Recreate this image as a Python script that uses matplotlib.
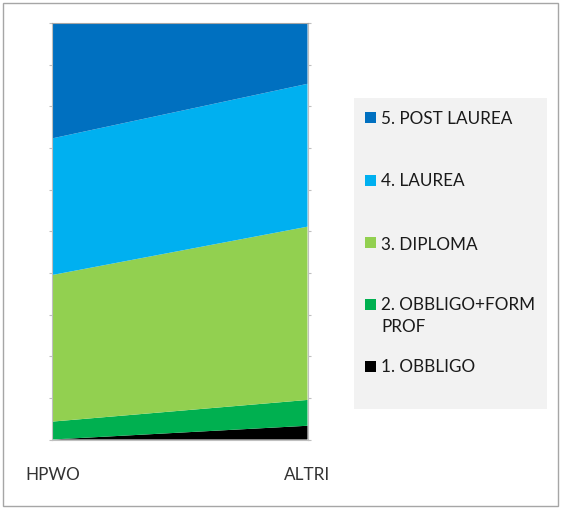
import matplotlib
matplotlib.use("Agg")
import matplotlib.pyplot as plt
from matplotlib.patches import Rectangle
import numpy as np

plt.rcParams['font.family'] = ['Lato', 'DejaVu Sans']

categories = ["HPWO", "ALTRI"]
series_names = ["1. OBBLIGO", "2. OBBLIGO+FORM\nPROF", "3. DIPLOMA", "4. LAUREA", "5. POST LAUREA"]
obbligo = [0.0, 3.3]
obbligo_form = [4.3, 6.2]
diploma = [35.2, 41.6]
laurea = [32.8, 34.3]
post_laurea = [27.7, 14.6]
colors = ["#000000", "#00B050", "#92D050", "#00B0F0", "#0070C0"]

values = [obbligo, obbligo_form, diploma, laurea, post_laurea]

fig = plt.figure(figsize=(5.62, 5.09), dpi=100)
W, H = 562, 509

# outer chart border
fig.patches.append(Rectangle((3 / W, 3 / H), (558 - 3) / W, (506 - 3) / H,
                             transform=fig.transFigure, fill=False,
                             edgecolor="#a6a6a6", linewidth=1.0))

ax = fig.add_axes([52.3 / W, 1 - 439.5 / H, (307.5 - 52.3) / W, (439.5 - 23) / H])
x = np.arange(len(categories))
ax.stackplot(x, *values, colors=colors, linewidth=0)
ax.set_xlim(0, len(categories) - 1)
ax.set_ylim(0, 100)

ax.set_xticks(x)
ax.set_xticklabels(categories, fontsize=12.3, color="#333333")
ax.tick_params(axis="x", length=0, pad=19.5)
ax.set_yticks(np.arange(0, 101, 10))
ax.set_yticklabels([])
ax.tick_params(axis="y", which="both", direction="out", length=2.5, color="#bfbfbf",
               left=True, right=True, width=0.8)
for s in ["top", "bottom", "left", "right"]:
    ax.spines[s].set_color("#bfbfbf")
    ax.spines[s].set_linewidth(0.8)
ax.spines["top"].set_color("#a6a6a6")

# legend (manual, to keep marker aligned with first line)
fig.patches.append(Rectangle((354 / W, 1 - 409 / H), (547 - 354) / W, (409 - 98) / H,
                             transform=fig.transFigure, facecolor="#f2f2f2",
                             edgecolor="none"))
legend_y = [366, 304, 243, 180, 117.5]  # pixel centers of first line, per series
for name, col, yc in zip(series_names, colors, legend_y):
    fig.patches.append(Rectangle((365 / W, 1 - (yc + 5.5) / H), 11 / W, 11 / H,
                                 transform=fig.transFigure, facecolor=col, edgecolor="none"))
    fig.text(381 / W, 1 - (yc - 6.5) / H, name, fontsize=12.3, color="#1a1a1a",
             ha="left", va="top", linespacing=1.4)

fig.savefig("out.png", dpi=100)
